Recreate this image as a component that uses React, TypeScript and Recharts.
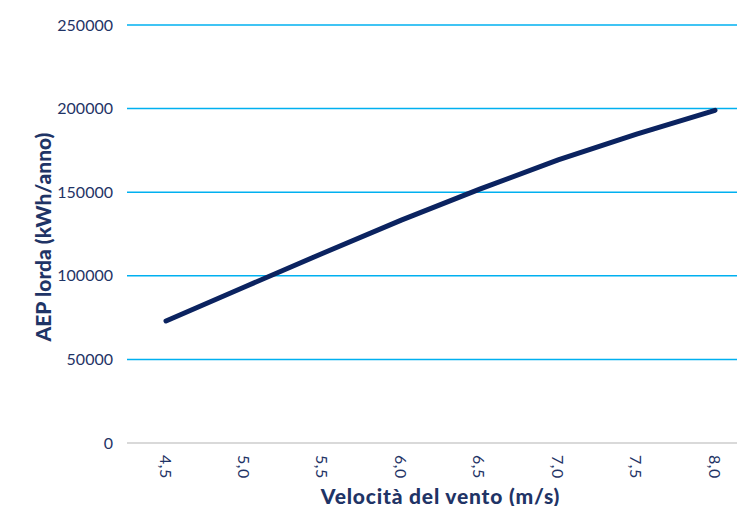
import { LineChart, Line, XAxis, YAxis, CartesianGrid, Label } from 'recharts'

const categories = ['4,5', '5,0', '5,5', '6,0', '6,5', '7,0', '7,5', '8,0']
const aepLorda = [73000, 93300, 113500, 133300, 151800, 169300, 184700, 199000]
const yTicks = [0, 50000, 100000, 150000, 200000, 250000]

const data = categories.map((vel, i) => ({ vel, aep: aepLorda[i] }))

const NAVY = '#1f3466'
const FONT = 'Lato, "Open Sans", sans-serif'

function XTick({ x, y, payload }: any) {
  return (
    <text
      x={x}
      y={y}
      transform={`rotate(90, ${x}, ${y})`}
      textAnchor="start"
      dominantBaseline="central"
      fill={NAVY}
      fontSize={16}
      letterSpacing={0.5}
      fontFamily={FONT}
    >
      {payload.value}
    </text>
  )
}

function YTitle({ viewBox }: any) {
  const cx = viewBox.x + 42
  const cy = viewBox.y + viewBox.height / 2 + 3
  return (
    <text
      x={cx}
      y={cy}
      transform={`rotate(-90, ${cx}, ${cy})`}
      textAnchor="middle"
      dominantBaseline="central"
      fill={NAVY}
      fontSize={21}
      fontWeight={900}
      fontFamily={FONT}
    >
      AEP lorda (kWh/anno)
    </text>
  )
}

function XTitle({ viewBox }: any) {
  return (
    <text
      x={viewBox.x + viewBox.width / 2}
      y={viewBox.y + 52}
      textAnchor="middle"
      dominantBaseline="central"
      fill={NAVY}
      fontSize={21}
      fontWeight={900}
      letterSpacing={0.8}
      fontFamily={FONT}
    >
      Velocità del vento (m/s)
    </text>
  )
}

export default function App() {
  return (
    <div style={{ position: 'absolute', left: 0, top: 0, width: 737, height: 506, overflow: 'hidden', background: '#fff' }}>
      <LineChart width={754} height={506} data={data} margin={{ top: 25, right: 0, bottom: 0, left: 0 }}>
        <CartesianGrid horizontal vertical={false} stroke="#00b0f0" strokeWidth={1.5} />
        <XAxis
          dataKey="vel"
          height={63}
          padding={{ left: 39, right: 39 }}
          axisLine={{ stroke: '#d9d9d9', strokeWidth: 2 }}
          tickLine={false}
          tickMargin={6}
          tick={<XTick />}
          interval={0}
        >
          <Label content={<XTitle />} />
        </XAxis>
        <YAxis
          width={127}
          domain={[0, 250000]}
          ticks={yTicks}
          axisLine={false}
          tickLine={false}
          tickMargin={8}
          tick={{ fill: NAVY, fontSize: 16, fontFamily: FONT }}
        >
          <Label content={<YTitle />} />
        </YAxis>
        <Line
          type="linear"
          dataKey="aep"
          stroke="#0b2360"
          strokeWidth={5}
          strokeLinecap="round"
          dot={false}
          isAnimationActive={false}
        />
      </LineChart>
    </div>
  )
}
